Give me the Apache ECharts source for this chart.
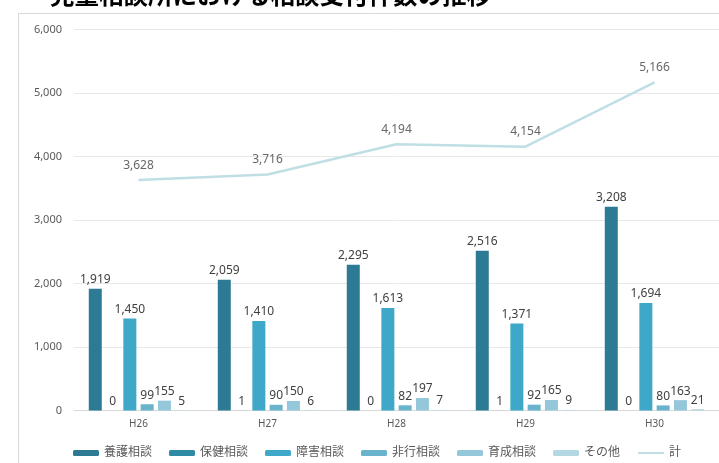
<!DOCTYPE html>
<html>
<head>
<meta charset="utf-8">
<script src="https://cdn.jsdelivr.net/npm/echarts@6/dist/echarts.min.js"></script>
<style>
html,body{margin:0;padding:0;background:#fff;}
#c{width:719px;height:463px;}
</style>
</head>
<body>
<div id="c"></div>
<script>
var categories = ['H26', 'H27', 'H28', 'H29', 'H30'];
var yougo = [1919, 2059, 2295, 2516, 3208];
var hoken = [0, 1, 0, 1, 0];
var shougai = [1450, 1410, 1613, 1371, 1694];
var hikou = [99, 90, 82, 92, 80];
var ikusei = [155, 150, 197, 165, 163];
var sonota = [5, 6, 7, 9, 21];
var total = [3628, 3716, 4194, 4154, 5166];
var yTicks = [0, 1000, 2000, 3000, 4000, 5000, 6000];

var chart = echarts.init(document.getElementById('c'));
var font = '"Noto Sans", "Noto Sans CJK JP", sans-serif';
var labelStyle = {
  show: true,
  position: 'top',
  distance: 3,
  color: '#404040',
  fontSize: 12,
  fontFamily: font,
  formatter: function (p) { return p.value.toLocaleString('en-US'); }
};
function bar(name, data, color) {
  return {
    name: name, type: 'bar', data: data, barWidth: 13, barGap: '33%',
    itemStyle: { color: color },
    label: labelStyle
  };
}
chart.setOption({
  animation: false,
  graphic: [
    { type: 'rect', shape: { x: 18.5, y: 13.5, width: 720, height: 470 },
      style: { fill: 'none', stroke: '#d9d9d9', lineWidth: 1 } },
    { type: 'text', left: 50, top: -18,
      style: { text: '児童相談所における相談受付件数の推移', font: 'bold 24.5px "Noto Sans CJK JP"', fill: '#000' } }
  ],
  grid: { left: 74, top: 29.5, width: 650, height: 381 },
  legend: {
    left: 68, top: 442, itemWidth: 26, itemHeight: 6, itemGap: 17,
    textStyle: { color: '#595959', fontSize: 12, fontFamily: font },
    data: ['養護相談', '保健相談', '障害相談', '非行相談', '育成相談', 'その他',
      { name: '計', itemStyle: { opacity: 0 } }]
  },
  xAxis: {
    type: 'category', data: categories,
    axisLine: { lineStyle: { color: '#d9d9d9' } },
    axisTick: { show: false },
    axisLabel: { color: '#595959', fontSize: 10, fontFamily: font, margin: 9 }
  },
  yAxis: {
    type: 'value', min: yTicks[0], max: yTicks[yTicks.length - 1], interval: 1000,
    axisLine: { show: false }, axisTick: { show: false },
    splitLine: { lineStyle: { color: '#e8e8e8' } },
    axisLabel: { color: '#595959', fontSize: 11, fontFamily: font, margin: 12,
      formatter: function (v) { return v.toLocaleString('en-US'); } }
  },
  series: [
    bar('養護相談', yougo, '#2c7a93'),
    bar('保健相談', hoken, '#2e8aa5'),
    bar('障害相談', shougai, '#3fa8c9'),
    bar('非行相談', hikou, '#6ab3cd'),
    bar('育成相談', ikusei, '#94c7d9'),
    bar('その他', sonota, '#b3d7e3'),
    {
      name: '計', type: 'line', data: total, symbol: 'none',
      lineStyle: { color: '#bfdfe4', width: 2.5 },
      itemStyle: { color: '#bfdfe4' }
    },
    {
      name: '計ラベル', type: 'scatter', data: total, symbolSize: 0,
      itemStyle: { color: 'transparent' },
      label: Object.assign({}, labelStyle, { distance: 9 })
    }
  ]
});
</script>
</body>
</html>
